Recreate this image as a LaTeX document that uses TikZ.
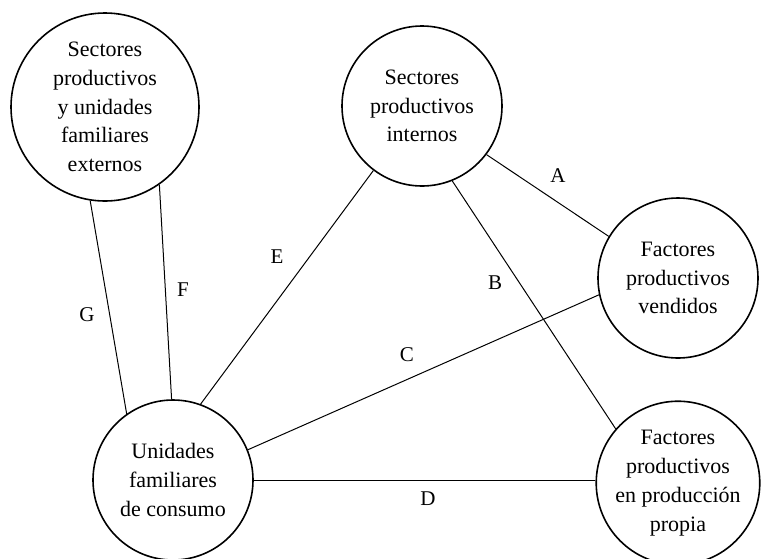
\documentclass[tikz,border=0pt]{standalone}
\usepackage{fontspec}
\setmainfont{Liberation Serif}
\begin{document}
\begin{tikzpicture}[x=1pt,y=-1pt,
  unit/.style={circle, draw, line width=1.6pt, inner sep=0pt, align=center,
    font=\fontsize{22}{28.8}\selectfont},
  link/.style={line width=1pt},
  lbl/.style={font=\fontsize{21}{24}\selectfont, inner sep=0pt}]
\useasboundingbox (0,0) rectangle (761,558);
\node[unit, minimum size=188pt] (ext) at (105,107) {Sectores\\productivos\\y unidades\\familiares\\externos};
\node[unit, minimum size=160pt] (int) at (422,106) {Sectores\\productivos\\internos};
\node[unit, minimum size=160pt] (fv) at (678,278) {Factores\\productivos\\vendidos};
\node[unit, minimum size=160pt] (fp) at (678,483) {Factores\\productivos\\en producción\\propia};
\node[unit, minimum size=160pt] (uf) at (173,480) {Unidades\\familiares\\de consumo};

\draw[link] (ext.261) -- (uf.125);
\draw[link] (ext.305) -- (uf.91);
\draw[link] (int.233) -- (uf.70);
\draw[link] (int.323) -- (fv.149);
\draw[link] (int.292) -- (fp.139);
\draw[link] (uf.22) -- (fv.192);
\draw[link] (uf.east) -- (uf.east -| fp.west);

\node[lbl] (la) at (558,176) {A};
\node[lbl] (lb) at (495,283) {B};
\node[lbl] (lc) at (407,355) {C};
\node[lbl] (ld) at (428,499) {D};
\node[lbl] (le) at (277,257) {E};
\node[lbl] (lf) at (183,290) {F};
\node[lbl] (lg) at (87,315) {G};
\end{tikzpicture}
\end{document}
